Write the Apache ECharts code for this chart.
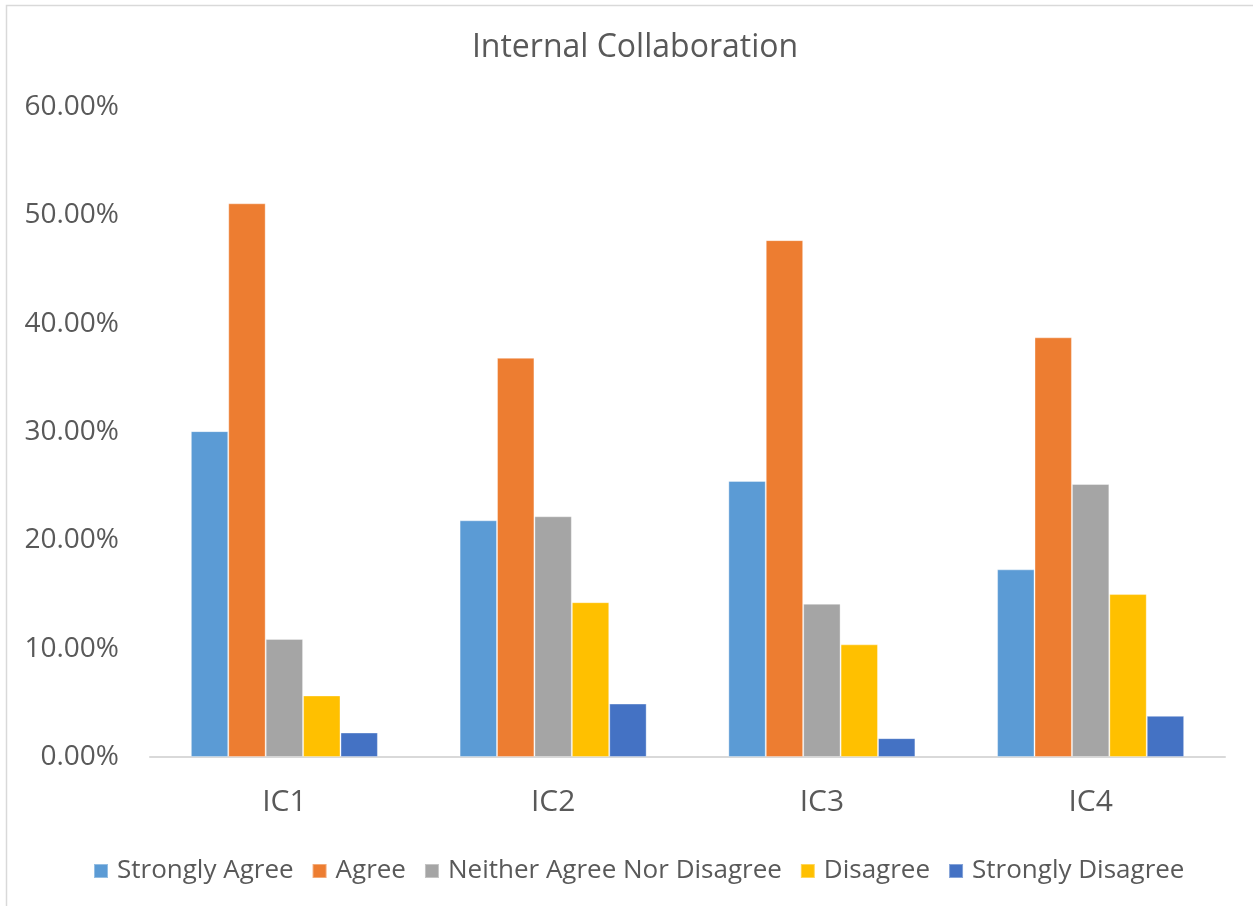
<!DOCTYPE html>
<html>
<head>
<meta charset="utf-8">
<script src="https://cdn.jsdelivr.net/npm/echarts@6/dist/echarts.min.js"></script>
<style>
  html, body { margin: 0; padding: 0; background: #fff; }
  #chart { width: 1253px; height: 906px; }
</style>
</head>
<body>
<div id="chart"></div>
<script>
// Survey responses per internal-collaboration item (percent of respondents)
const categories = ['IC1', 'IC2', 'IC3', 'IC4'];
const stronglyAgree = [30.08, 21.85, 25.48, 17.32];
const agree = [51.11, 36.85, 47.71, 38.74];
const neither = [10.90, 22.22, 14.15, 25.20];
const disagree = [5.68, 14.29, 10.40, 15.04];
const stronglyDisagree = [2.26, 4.93, 1.74, 3.80];
const seriesNames = ['Strongly Agree', 'Agree', 'Neither Agree Nor Disagree', 'Disagree', 'Strongly Disagree'];
const yTicks = [0, 10, 20, 30, 40, 50, 60];

const colors = ['#5B9BD5', '#ED7D31', '#A5A5A5', '#FFC000', '#4472C4'];
const textColor = '#595959';
const font = '"Open Sans", "DejaVu Sans", sans-serif';

const chart = echarts.init(document.getElementById('chart'));
const seriesData = [stronglyAgree, agree, neither, disagree, stronglyDisagree];

chart.setOption({
  animation: false,
  color: colors,
  textStyle: { fontFamily: font, color: textColor },
  graphic: [{
    type: 'rect',
    shape: { x: 6.5, y: 5.5, width: 1400, height: 1100 },
    style: { fill: 'none', stroke: '#d9d9d9', lineWidth: 1.5 },
    silent: true
  }],
  title: {
    text: 'Internal Collaboration',
    left: 630,
    textAlign: 'center',
    top: 27,
    textStyle: { fontFamily: font, fontSize: 32, fontWeight: 'normal', color: textColor }
  },
  legend: {
    data: seriesNames,
    left: 88,
    top: 853,
    itemWidth: 14,
    itemHeight: 14,
    itemGap: 18,
    icon: 'rect',
    textStyle: { fontFamily: font, fontSize: 26, color: textColor, padding: [0, 0, 0, 4] }
  },
  grid: { left: 150, right: 28, top: 107, bottom: 149, containLabel: false },
  xAxis: {
    type: 'category',
    data: categories,
    axisLine: { lineStyle: { color: '#d9d9d9', width: 2 } },
    axisTick: { show: false },
    axisLabel: { fontFamily: font, fontSize: 30, color: textColor, margin: 30 }
  },
  yAxis: {
    type: 'value',
    min: yTicks[0],
    max: yTicks[yTicks.length - 1],
    interval: yTicks[1] - yTicks[0],
    axisLine: { show: false },
    axisTick: { show: false },
    splitLine: { show: false },
    axisLabel: {
      fontFamily: font, fontSize: 28, color: textColor, margin: 31,
      formatter: v => v.toFixed(2) + '%'
    }
  },
  series: seriesNames.map((name, i) => ({
    name,
    type: 'bar',
    data: seriesData[i],
    barGap: '0%',
    barCategoryGap: '30.4%',
    itemStyle: { color: colors[i], borderColor: 'rgba(255,255,255,0.35)', borderWidth: 1 }
  }))
});
</script>
</body>
</html>
